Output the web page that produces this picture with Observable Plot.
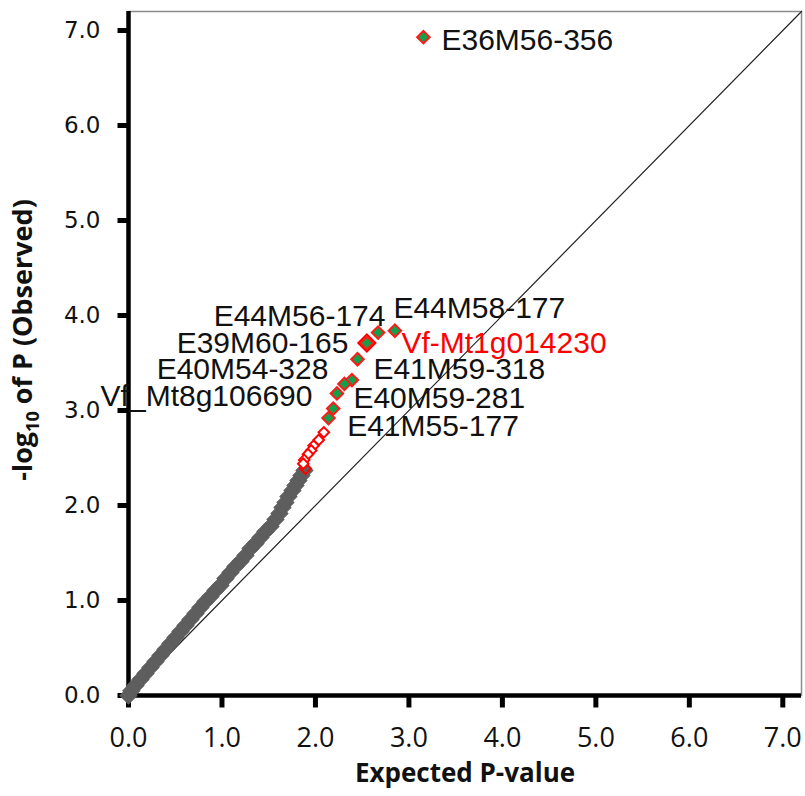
<!DOCTYPE html>
<html><head><meta charset="utf-8">
<script src="https://cdn.jsdelivr.net/npm/d3@7"></script>
<script src="https://cdn.jsdelivr.net/npm/@observablehq/plot@0.6"></script>
<style>
body{margin:0;background:#fff}
</style>
</head><body><div id="chart"></div>
<script>
// ---- data ----
const axisMax = 7.2;
const xTicks = [0,1,2,3,4,5,6,7];
const yTicks = [0,1,2,3,4,5,6,7];

const grayExpected = [0.00,0.03,0.075,0.128,0.182,0.235,0.289,0.342,0.396,0.449,0.503,0.556,0.610,0.663,0.717,0.770,0.824,0.877,0.930,0.984,1.037,1.091,1.144,1.198,1.251,1.305,1.358,1.412,1.465,1.519,1.572,1.615,1.647,1.679,1.711,1.754,1.786,1.818,1.850,1.882];
const grayObserved = [0.00,0.05,0.105,0.168,0.232,0.295,0.358,0.421,0.484,0.547,0.611,0.674,0.737,0.800,0.863,0.926,0.989,1.042,1.105,1.158,1.232,1.295,1.358,1.411,1.474,1.547,1.600,1.663,1.726,1.779,1.853,1.916,1.979,2.032,2.095,2.158,2.211,2.263,2.316,2.368];

const edgeExpected = [1.893];
const edgeObserved = [2.389];

const openExpected = [2.09,2.035,1.98,1.955,1.92,1.88,1.87];
const openObserved = [2.77,2.69,2.63,2.58,2.54,2.48,2.44];

const hitExpected = [2.55];
const hitObserved = [3.71];

const greenExpected = [3.155,2.85,2.67,2.55,2.45,2.39,2.31,2.23,2.19,2.14];
const greenObserved = [6.93,3.84,3.82,3.71,3.54,3.32,3.28,3.18,3.02,2.92];

const labelNames = ["E36M56-356","E44M58-177","Vf-Mt1g014230","E41M59-318","E40M59-281","E41M55-177","E44M56-174","E39M60-165","E40M54-328","Vf_Mt8g106690"];
const labelX = [3.348,2.834,2.920,2.620,2.406,2.339,2.749,2.353,2.139,1.968];
const labelY = [6.895,4.079,3.711,3.429,3.132,2.834,3.992,3.711,3.429,3.150];
const labelAnchor = ["start","start","start","start","start","start","end","end","end","end"];
const labelColor = ["#111","#111","#ff0000","#111","#111","#111","#111","#111","#111","#111"];

// ---- build tables ----
const zip = (xs, ys) => xs.map((x, i) => ({x, y: ys[i]}));
const gray = zip(grayExpected, grayObserved);
const edge = zip(edgeExpected, edgeObserved);
const open = zip(openExpected, openObserved);
const hit = zip(hitExpected, hitObserved);
const green = zip(greenExpected, greenObserved);
const labels = labelNames.map((name, i) => ({name, x: labelX[i], y: labelY[i], anchor: labelAnchor[i], color: labelColor[i]}));
const labelsStart = labels.filter(d => d.anchor === "start");
const labelsEnd = labels.filter(d => d.anchor === "end");

const diamond = {symbol: "square", rotate: 45};
const labelStyle = {x: "x", y: "y", text: "name", fill: "color", fontSize: 30, fontFamily: "Liberation Sans"};
const fmt = d => d.toFixed(1);

// custom symbols for outward tick marks (down for x, left for y)
const tickDown = {draw(ctx) { ctx.moveTo(0, 0); ctx.lineTo(0, 12); }};
const tickLeft = {draw(ctx) { ctx.moveTo(0, 0); ctx.lineTo(-11, 0); }};

const plot = Plot.plot({
  width: 805,
  height: 796,
  marginLeft: 128,
  marginRight: 4,
  marginTop: 11,
  marginBottom: 101,
  x: {domain: [0, axisMax]},
  y: {domain: [0, axisMax]},
  style: {background: "#fff"},
  marks: [
    Plot.frame({stroke: "#8c8c8c", strokeWidth: 1.5}),
    Plot.line([0, axisMax], {x: d => d, y: d => d, stroke: "#222", strokeWidth: 1.2}),
    Plot.ruleY([0], {stroke: "#000", strokeWidth: 4.5}),
    Plot.ruleX([0], {stroke: "#000", strokeWidth: 4.5}),
    Plot.dot(xTicks, {x: d => d, y: 0, symbol: tickDown, fill: "none", stroke: "#000", strokeWidth: 5}),
    Plot.dot(yTicks, {y: d => d, x: 0, symbol: tickLeft, fill: "none", stroke: "#000", strokeWidth: 5}),
    Plot.axisX(xTicks, {tickSize: 0, tickPadding: 32, tickFormat: fmt, fontSize: 27, fontFamily: "Open Sans", fill: "#111", label: null}),
    Plot.axisY(yTicks, {tickSize: 0, tickPadding: 28, tickFormat: fmt, fontSize: 23, fontFamily: "DejaVu Sans", fill: "#111", label: null}),
    Plot.dot(gray, {x: "x", y: "y", ...diamond, r: 6.8, fill: "#5e5e5e", stroke: "#5e5e5e", strokeWidth: 1}),
    Plot.dot(edge, {x: "x", y: "y", ...diamond, r: 4.4, fill: "#5e5e5e", stroke: "#ff0000", strokeWidth: 2}),
    Plot.dot(open, {x: "x", y: "y", ...diamond, r: 4.2, fill: "#fff", stroke: "#ff0000", strokeWidth: 2}),
    Plot.dot(hit, {x: "x", y: "y", ...diamond, r: 6.8, fill: "#ff0000", stroke: "#ff0000", strokeWidth: 2}),
    Plot.dot(green, {x: "x", y: "y", ...diamond, r: 5, fill: "#12a04a", stroke: "#ff1a1a", strokeWidth: 2}),
    Plot.text(labelsStart, {...labelStyle, textAnchor: "start"}),
    Plot.text(labelsEnd, {...labelStyle, textAnchor: "end"}),
    Plot.text(["Expected P-value"], {frameAnchor: "bottom", dy: 86, fontSize: 26, fontWeight: "bold", fontFamily: "Open Sans", fill: "#111"})
  ]
});

// y-axis title with a subscript
const svg = d3.select(plot);
const t = svg.append("text")
  .attr("transform", "translate(32,340) rotate(-90)")
  .attr("text-anchor", "middle")
  .attr("font-family", "Open Sans")
  .attr("font-weight", "bold")
  .attr("font-size", 27)
  .attr("fill", "#111");
t.append("tspan").text("-log");
t.append("tspan").attr("font-size", 18).attr("dy", 7).text("10");
t.append("tspan").attr("dy", -7).text(" of P (Observed)");

document.getElementById("chart").appendChild(plot);
</script>
</body></html>
